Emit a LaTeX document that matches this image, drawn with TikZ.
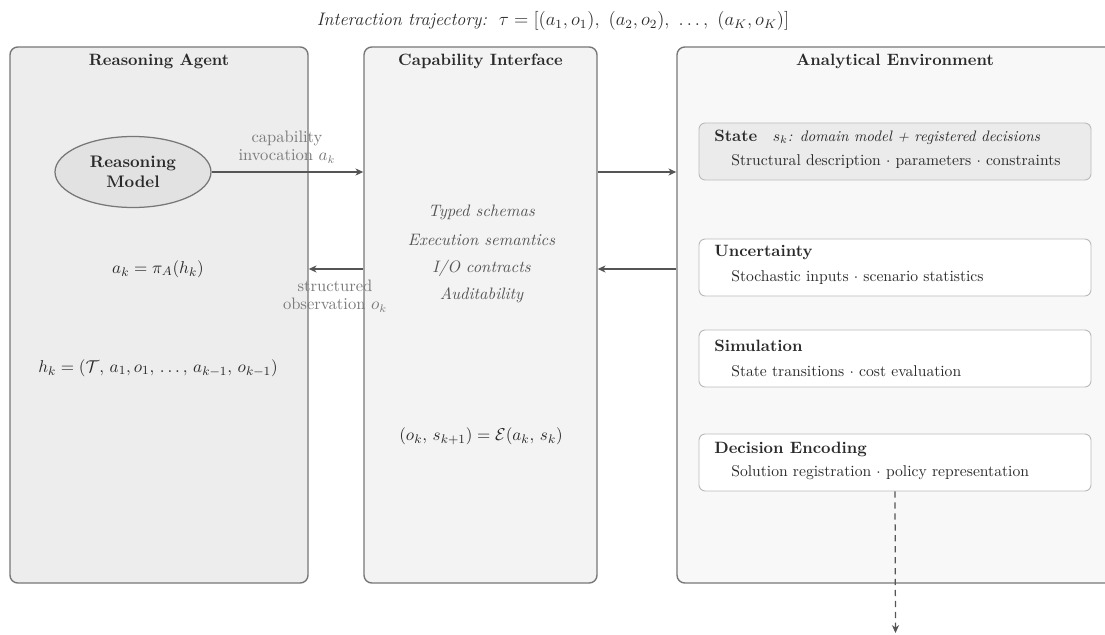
\documentclass[tikz,border=0pt]{standalone}
\usepackage{amsmath}
\usetikzlibrary{shapes.geometric,arrows.meta}
\definecolor{panelborder}{HTML}{777777}
\definecolor{agentfill}{HTML}{EDEDED}
\definecolor{capfill}{HTML}{F3F3F3}
\definecolor{envfill}{HTML}{F8F8F8}
\definecolor{statefill}{HTML}{EBEBEB}
\definecolor{boxborder}{HTML}{BBBBBB}
\definecolor{ellfill}{HTML}{E2E2E2}
\definecolor{arrowgray}{HTML}{555555}
\definecolor{labelgray}{HTML}{7A7A7A}
\definecolor{textdark}{HTML}{2A2A2A}
\definecolor{italgray}{HTML}{555555}
\tikzset{
  panel/.style={draw=panelborder, line width=0.9pt, rounded corners=5pt, inner sep=0pt},
  subbox/.style={draw=boxborder, line width=0.6pt, rounded corners=4pt, inner sep=0pt,
    minimum width={392*0.64pt}, minimum height={57*0.64pt}},
  heading/.style={font=\fontsize{10.5}{12}\selectfont\bfseries, text=textdark},
  desc/.style={font=\fontsize{10}{12}\selectfont, text=textdark, anchor=west, inner sep=0pt},
  glabel/.style={font=\fontsize{10.6}{12.5}\selectfont, text=labelgray, align=center},
  eq/.style={font=\fontsize{11}{13}\selectfont, text=textdark},
  ital/.style={font=\fontsize{10.6}{12}\selectfont\itshape, text=italgray},
  flow/.style={draw=arrowgray, line width=0.8pt, -{Stealth[length=5pt,width=4.5pt,inset=1.5pt]}},
}
\begin{document}
\begin{tikzpicture}[x=0.64pt,y=-0.64pt]
\useasboundingbox (0,0) rectangle (1105,635);
\clip (0,0) rectangle (1105,635);

% title
\node[font=\fontsize{11.6}{13}\selectfont, text=textdark] (title) at (553,21)
  {\textit{Interaction trajectory:}\ \ $\tau=[(a_1,o_1),\ (a_2,o_2),\ \ldots,\ (a_K,o_K)]$};

% panels
\node[panel, fill=agentfill, minimum width={298*0.64pt}, minimum height={536*0.64pt}] (agent) at (159,315) {};
\node[panel, fill=capfill, minimum width={233*0.64pt}, minimum height={536*0.64pt}] (cap) at (480.5,315) {};
\node[panel, fill=envfill, minimum width={436*0.64pt}, minimum height={536*0.64pt}] (env) at (895,315) {};

\node[heading] (agentT) at (159,61) {Reasoning Agent};
\node[heading] (capT) at (480.5,61) {Capability Interface};
\node[heading] (envT) at (895,61) {Analytical Environment};

% reasoning model
\node[ellipse, draw=panelborder, line width=0.8pt, fill=ellfill, minimum width={156*0.64pt}, minimum height={71*0.64pt}, inner sep=0pt,
  font=\fontsize{10.7}{13}\selectfont\bfseries, text=textdark, align=center] (rm) at (133,172) {Reasoning\\Model};

\node[eq] (pi) at (158,269) {$a_k=\pi_A(h_k)$};
\node[eq] (hk) at (158,368) {$h_k=(\mathcal{T},\,a_1,o_1,\,\ldots,\,a_{k-1},\,o_{k-1})$};

% capability interface content
\node[ital] (c1) at (481.5,212) {Typed schemas};
\node[ital] (c2) at (481.5,240) {Execution semantics};
\node[ital] (c3) at (481.5,268) {I/O contracts};
\node[ital] (c4) at (481.5,295) {Auditability};
\node[eq] (ce) at (481,436) {$(o_k,\,s_{k+1})=\mathcal{E}(a_k,\,s_k)$};

% environment sub-boxes
\node[subbox, fill=statefill] (state) at (895,151.5) {};
\node[subbox, fill=white] (unc) at (895,267.5) {};
\node[subbox, fill=white] (sim) at (895,358.5) {};
\node[subbox, fill=white] (dec) at (895,462.5) {};

\node[desc] (stateH) at (714,137) {{\fontsize{10.5}{12}\selectfont\textbf{State}}\quad{\fontsize{9.7}{12}\selectfont $s_k$\textit{: domain model + registered decisions}}};
\node[desc] (stateD) at (731,162) {Structural description $\cdot$ parameters $\cdot$ constraints};
\node[desc] (uncH) at (714,253) {\fontsize{10.5}{12}\selectfont\textbf{Uncertainty}};
\node[desc] (uncD) at (731,278) {Stochastic inputs $\cdot$ scenario statistics};
\node[desc] (simH) at (714,346) {\fontsize{10.5}{12}\selectfont\textbf{Simulation}};
\node[desc] (simD) at (731,371) {State transitions $\cdot$ cost evaluation};
\node[desc] (decH) at (714,449) {\fontsize{10.5}{12}\selectfont\textbf{Decision Encoding}};
\node[desc] (decD) at (731,473) {Solution registration $\cdot$ policy representation};

% connectors
\draw[flow] (rm.east) -- (rm.east -| cap.west);
\node[glabel] (invL) at (287,147) {capability\\[-1pt]invocation $a_k$};
\draw[flow] (cap.west |- pi) -- (agent.east |- pi);
\node[glabel] (obsL) at (335,296) {structured\\[-1pt]observation $o_k$};
\draw[flow] (cap.east |- rm) -- (env.west |- rm);
\draw[flow] (env.west |- pi) -- (cap.east |- pi);

\coordinate (out) at (895.5,633);
\draw[flow, dashed, dash pattern=on 4pt off 3pt] (dec.south) -- (out);
\end{tikzpicture}
\end{document}
